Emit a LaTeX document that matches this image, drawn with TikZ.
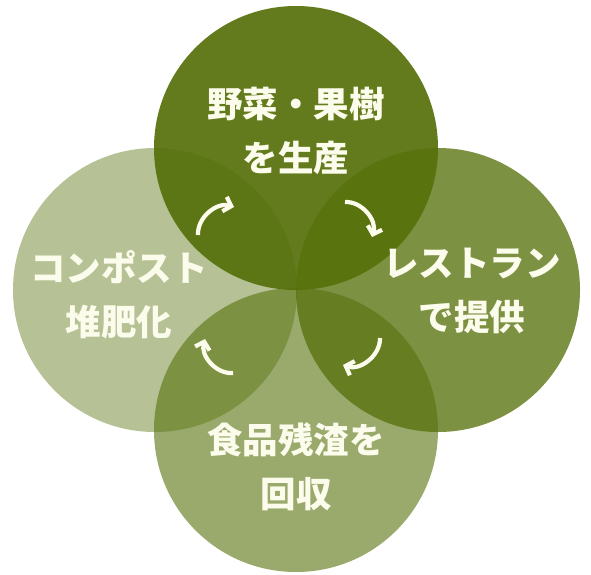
\documentclass[tikz,border=0pt]{standalone}
\usepackage{fontspec}
\newfontfamily\jpfont{Noto Sans CJK JP}
\usetikzlibrary{arrows.meta}
\definecolor{olivebase}{RGB}{86,112,10}
\definecolor{labelwhite}{RGB}{252,252,236}
\begin{document}
\begin{tikzpicture}
[x=1pt,y=-1pt,
  circledecorate/.style={shape=circle,minimum size=284pt,inner sep=0pt,fill=olivebase},%
  textdecorate/.style={align=center,text=labelwhite,font=\jpfont\bfseries\fontsize{35.5}{54}\selectfont},%
  arrowdecorate/.style={draw=labelwhite,line width=4.2pt,-{Straight Barb[length=7pt,width=15pt]}}]
\useasboundingbox (0,0) rectangle (591,574);
%% circles
\foreach \nodename/\x/\y/\alpha in {
  compost/155/290/0.43, collect/296/430/0.6,
  serve/438/290/0.77, grow/296/148/0.92}
{
  \node (\nodename) at (\x,\y) [circledecorate,fill opacity=\alpha] {};
}
%% labels
\node (growtext) at (296,131) [textdecorate] {野菜・果樹\\を生産};
\node (servetext) at (472,291) [textdecorate] {レストラン\\で提供};
\node (collecttext) at (296,467) [textdecorate] {食品残渣を\\回収};
\node (composttext) at (119,295) [textdecorate] {コンポスト\\堆肥化};
%% arrows
\coordinate (a1) at (198,235); \coordinate (b1) at (234,207);
\coordinate (a2) at (345,202); \coordinate (b2) at (372,237);
\coordinate (a3) at (380,338); \coordinate (b3) at (343,365);
\coordinate (a4) at (233,373); \coordinate (b4) at (205,339);
\foreach \i in {1,2,3,4} {
  \draw[arrowdecorate] (a\i) to[bend left=55] (b\i);
}
\end{tikzpicture}
\end{document}
